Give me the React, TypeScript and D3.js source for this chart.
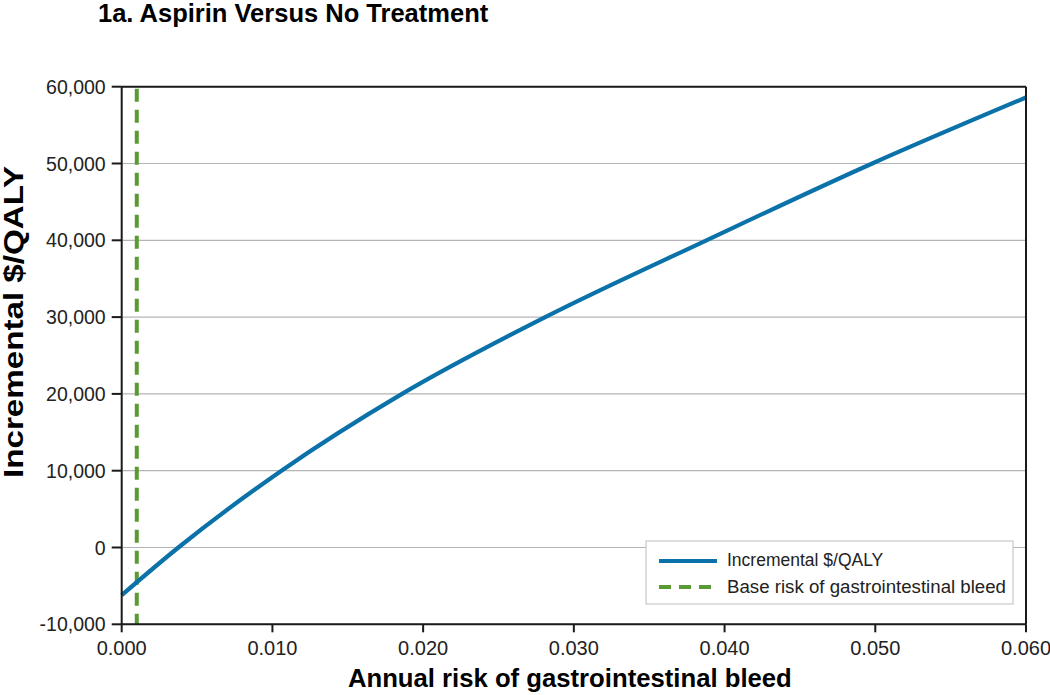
import React from "react";
import * as d3 from "d3";

const riskValues = [0, 0.00376, 0.0106, 0.0186, 0.0281, 0.0388, 0.0498, 0.06];
const costValues = [-6200, 0, 10000, 20000, 30000, 40000, 50000, 58600];
const baseRisk = 0.001;
const xTicks = [0, 0.01, 0.02, 0.03, 0.04, 0.05, 0.06];
const yTicks = [-10000, 0, 10000, 20000, 30000, 40000, 50000, 60000];
const legendLabels = ["Incremental $/QALY", "Base risk of gastrointestinal bleed"];

const W = 1050;
const H = 695;
const left = 121.7;
const right = 1026;
const top = 86.7;
const bottom = 624.3;
const BLUE = "#0b71a9";
const GREEN = "#5a9a32";
const FONT = "'Liberation Sans', Arial, Helvetica, sans-serif";

export default function App() {
  const x = d3.scaleLinear().domain([0, 0.06]).range([left, right]);
  const y = d3.scaleLinear().domain([-10000, 60000]).range([bottom, top]);
  const locale = d3.formatLocale({ decimal: ".", thousands: ",", grouping: [3], currency: ["$", ""], minus: "-" });
  const fy = locale.format(",");
  const fx = d3.format(".3f");
  const pts = riskValues.map((r, i) => [r, costValues[i]] as [number, number]);
  const line = d3
    .line<[number, number]>()
    .x((d) => x(d[0]))
    .y((d) => y(d[1]))
    .curve(d3.curveMonotoneX);

  return (
    <svg width={W} height={H} style={{ position: "absolute", left: 0, top: 0, background: "#fff" }} fontFamily={FONT}>
      <text x={98} y={22} fontSize={25.5} fontWeight="bold" fill="#000">
        1a. Aspirin Versus No Treatment
      </text>
      {/* gridlines */}
      {yTicks.map((t) => (
        <line key={"g" + t} x1={left} x2={right} y1={y(t)} y2={y(t)} stroke="#b4b4b8" strokeWidth={1.2} />
      ))}
      {/* base risk */}
      <line x1={x(baseRisk)} x2={x(baseRisk)} y1={top + 2} y2={bottom} stroke={GREEN} strokeWidth={4} strokeDasharray="13,8" />
      {/* curve */}
      <path d={line(pts) || ""} fill="none" stroke={BLUE} strokeWidth={4.2} />
      {/* frame */}
      <line x1={left} x2={right} y1={top} y2={top} stroke="#1a1a1a" strokeWidth={2} />
      <line x1={right} x2={right} y1={top} y2={bottom} stroke="#1a1a1a" strokeWidth={2} />
      <line x1={left} x2={left} y1={top} y2={bottom} stroke="#1a1a1a" strokeWidth={2} />
      <line x1={left} x2={right} y1={bottom} y2={bottom} stroke="#1a1a1a" strokeWidth={2} />
      {/* y ticks */}
      {yTicks.map((t) => (
        <g key={"y" + t}>
          <line x1={left - 10} x2={left} y1={y(t)} y2={y(t)} stroke="#1a1a1a" strokeWidth={2} />
          <text x={left - 16} y={y(t)} dy="0.36em" textAnchor="end" fontSize={19.5} fill="#222">
            {fy(t)}
          </text>
        </g>
      ))}
      {/* x ticks */}
      {xTicks.map((t) => (
        <g key={"x" + t}>
          <line x1={x(t)} x2={x(t)} y1={bottom} y2={bottom + 8} stroke="#1a1a1a" strokeWidth={2} />
          <text x={x(t)} y={655} textAnchor="middle" fontSize={20} fill="#222">
            {fx(t)}
          </text>
        </g>
      ))}
      <text x={(left + right) / 2 - 4} y={687} textAnchor="middle" fontSize={25.7} fontWeight="bold" fill="#000">
        Annual risk of gastrointestinal bleed
      </text>
      <text
        transform={`translate(23, 322) rotate(-90)`}
        textAnchor="middle"
        fontSize={27}
        fontWeight="bold"
        fill="#000"
        textLength={312}
        lengthAdjust="spacingAndGlyphs"
      >
        Incremental $/QALY
      </text>
      {/* legend */}
      <rect x={646} y={541} width={367} height={63} fill="#fff" stroke="#c8c8c8" strokeWidth={1.2} />
      <line x1={659} x2={717} y1={561} y2={561} stroke={BLUE} strokeWidth={4} />
      <line x1={659} x2={717} y1={587} y2={587} stroke={GREEN} strokeWidth={4} strokeDasharray="12,8" />
      <text x={727} y={566} fontSize={17.5} fill="#222">
        {legendLabels[0]}
      </text>
      <text x={727} y={593} fontSize={17.5} fill="#222" textLength={279} lengthAdjust="spacingAndGlyphs">
        {legendLabels[1]}
      </text>
    </svg>
  );
}
